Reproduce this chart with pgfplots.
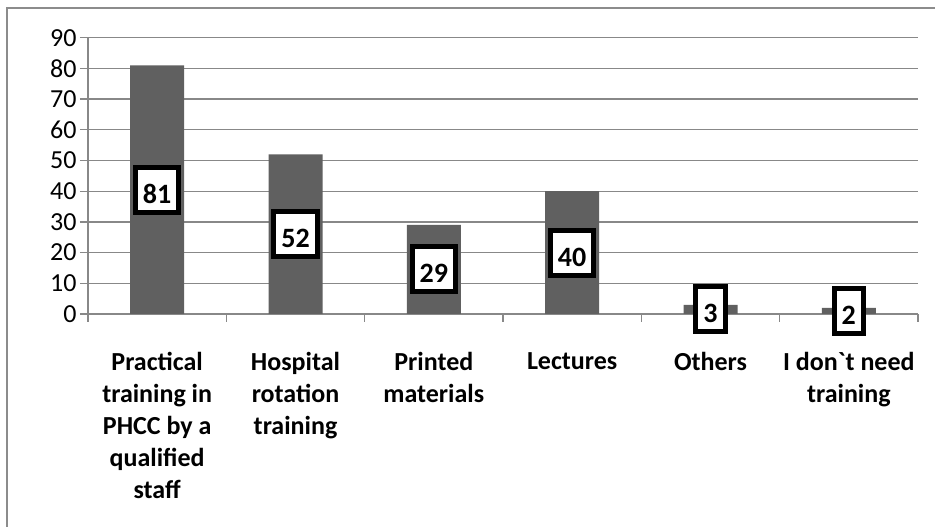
\documentclass[border=0pt]{standalone}
\usepackage{pgfplots}
\usepackage{pgfplotstable}
\pgfplotsset{compat=1.18}
\usepackage{fontspec}
\setmainfont{Carlito}
\definecolor{barc}{HTML}{606060}
\definecolor{gridc}{HTML}{888888}
\definecolor{framec}{HTML}{8C8C8C}
\pgfplotstableread{
x y
0 81
1 52
2 29
3 40
4 3
5 2
}\datatable
\begin{document}
\begin{tikzpicture}[x=1pt,y=1pt]
\useasboundingbox (0,0) rectangle (935,527);
\draw[framec, line width=1.6pt] (7,0) -- (7,519) -- (935,519);
\begin{axis}[
  at={(88pt,213pt)}, anchor=south west,
  scale only axis, width=830pt, height=276.3pt,
  xmin=-0.5, xmax=5.5, ymin=0, ymax=90,
  ytick={0,10,...,90},
  yticklabel={\fontsize{26}{30}\selectfont\pgfmathprintnumber{\tick}},
  xtick={-0.5,0.5,...,5.5}, xticklabels={},
  extra x ticks={0,1,2,3,4,5},
  extra x tick labels={{Practical\\training in\\PHCC by a\\qualified\\staff},{Hospital\\rotation\\training},{Printed\\materials},{Lectures},{Others},{I don\textasciigrave t need\\training}},
  extra x tick style={major tick length=0pt, grid=none},
  axis x line*=bottom, axis y line*=left,
  axis line style={gridc, line width=1.3pt},
  ymajorgrids, major grid style={gridc, line width=1.3pt},
  tick style={gridc, line width=1.3pt},
  major tick length=8pt, tick align=outside,
  /pgf/number format/assume math mode=true,
  ticklabel style={font=\fontsize{26}{30}\selectfont},
  yticklabel style={anchor=east},
  xticklabel style={font=\fontsize{26}{32}\selectfont\bfseries, align=center, anchor=north, yshift=-35pt},
  clip=false,
]
\addplot[ybar, bar width=54pt, fill=barc, draw=none] table[x=x,y=y]{\datatable};
\addplot[draw=none, mark=none, nodes near coords, point meta=explicit,
  nodes near coords style={anchor=center, draw=black, line width=5pt, fill=white,
    font=\fontsize{28}{32}\selectfont\bfseries, inner xsep=7.5pt, inner ysep=9pt,
    text height=27pt, text depth=0pt}]
  table[x=x, y expr=\thisrow{y}/2, meta=y]{\datatable};
\end{axis}
\end{tikzpicture}
\end{document}
